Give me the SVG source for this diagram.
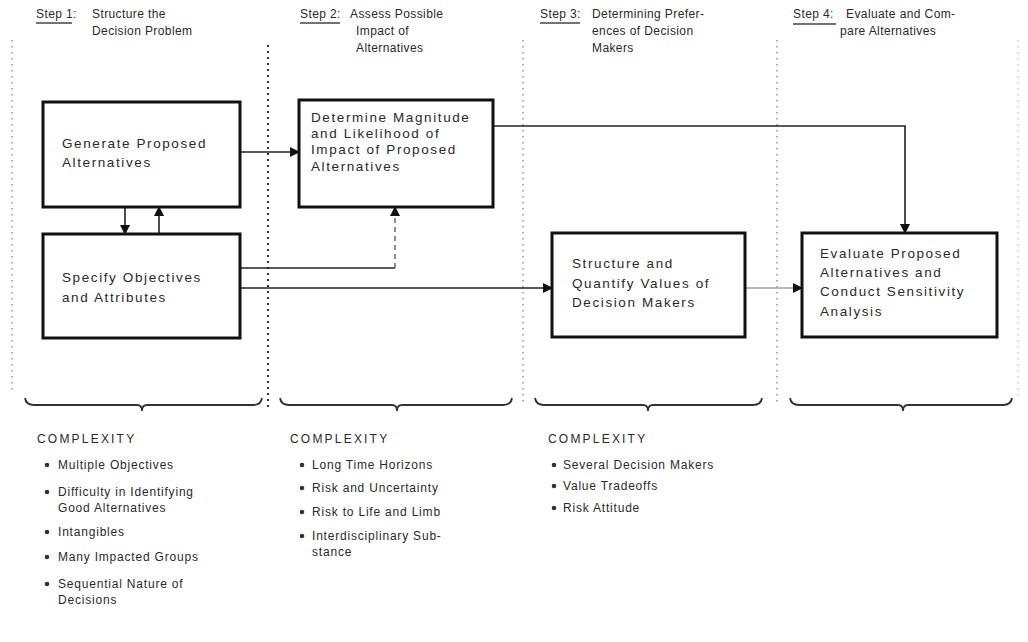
<svg xmlns="http://www.w3.org/2000/svg" width="1028" height="642" viewBox="0 0 1028 642">
  <style>
    text { font-family: "Liberation Sans", Arial, sans-serif; fill: #2a2a2a; }
    .hd { font-size: 12px; letter-spacing: 0.4px; }
    .bx { font-size: 13.5px; letter-spacing: 1.6px; }
    .ls { font-size: 12px; letter-spacing: 0.8px; }
    .cx { font-size: 12px; letter-spacing: 2.2px; }
    .box { fill: #fff; stroke: #111; stroke-width: 3; }
    .ln { fill: none; stroke: #222; stroke-width: 1.6; }
    .lt { fill: none; stroke: #777; stroke-width: 1.2; }
    .dash { fill: none; stroke: #444; stroke-width: 1.2; stroke-dasharray: 5 4; }
    .dot { fill: none; stroke: #999; stroke-width: 1.6; stroke-dasharray: 1.5 4.5; }
    .dotk { fill: none; stroke: #333; stroke-width: 2; stroke-dasharray: 2 4; }
    .ul { stroke: #444; stroke-width: 1.4; }
    .brace { fill: none; stroke: #333; stroke-width: 1.8; }
    .bul { fill: #333; }
  </style>
  <defs>
    <marker id="ah" markerWidth="10" markerHeight="10" refX="9" refY="5" orient="auto" markerUnits="userSpaceOnUse">
      <path d="M0,0 L10,5 L0,10 Z" fill="#111"/>
    </marker>
  </defs>

  <rect width="1028" height="642" fill="#fff"/>

  <!-- column separators -->
  <g id="separators">
    <line class="dot" x1="12" y1="40" x2="12" y2="390"/>
    <line class="dotk" x1="268" y1="45" x2="268" y2="408"/>
    <line class="dot" x1="523" y1="40" x2="523" y2="404"/>
    <line class="dot" x1="777" y1="40" x2="777" y2="402"/>
    <line class="dot" x1="1018" y1="40" x2="1018" y2="400" style="stroke:#ccc"/>
  </g>

  <!-- step headings -->
  <g id="step1-head">
    <text class="hd" x="36" y="18">Step 1:</text>
    <line class="ul" x1="36" y1="23" x2="72" y2="23"/>
    <text class="hd" x="92" y="18">Structure the</text>
    <text class="hd" x="92" y="35">Decision Problem</text>
  </g>
  <g id="step2-head">
    <text class="hd" x="300" y="18">Step 2:</text>
    <line class="ul" x1="300" y1="23" x2="340" y2="23"/>
    <text class="hd" x="350" y="18">Assess Possible</text>
    <text class="hd" x="356" y="35">Impact  of</text>
    <text class="hd" x="356" y="52">Alternatives</text>
  </g>
  <g id="step3-head">
    <text class="hd" x="540" y="18">Step 3:</text>
    <line class="ul" x1="540" y1="23" x2="580" y2="23"/>
    <text class="hd" x="592" y="18">Determining Prefer-</text>
    <text class="hd" x="592" y="35">ences of Decision</text>
    <text class="hd" x="592" y="52">Makers</text>
  </g>
  <g id="step4-head">
    <text class="hd" x="793" y="18">Step 4:</text>
    <line class="ul" x1="793" y1="24" x2="836" y2="24"/>
    <text class="hd" x="846" y="18">Evaluate and Com-</text>
    <text class="hd" x="840" y="35">pare Alternatives</text>
  </g>

  <!-- connectors -->
  <g id="connectors">
    <line class="ln" x1="240" y1="152" x2="299" y2="152" marker-end="url(#ah)"/>
    <polyline class="ln" points="493,126 905,126 905,233" marker-end="url(#ah)"/>
    <line class="ln" x1="125" y1="207" x2="125" y2="234" marker-end="url(#ah)"/>
    <line class="ln" x1="159" y1="234" x2="159" y2="207" marker-end="url(#ah)"/>
    <line class="ln" x1="240" y1="268" x2="395" y2="268"/>
    <line class="dash" x1="395" y1="268" x2="395" y2="214"/>
    <line class="ln" x1="395" y1="216" x2="395" y2="207" marker-end="url(#ah)"/>
    <line class="ln" x1="240" y1="288" x2="552" y2="288" marker-end="url(#ah)"/>
    <line class="lt" x1="745" y1="288" x2="802" y2="288" marker-end="url(#ah)"/>
  </g>

  <!-- process boxes -->
  <g id="generate-alternatives">
    <rect class="box" x="43" y="102" width="197" height="105"/>
    <text class="bx" x="62" y="148">Generate Proposed</text>
    <text class="bx" x="62" y="167">Alternatives</text>
  </g>
  <g id="specify-objectives">
    <rect class="box" x="43" y="234" width="197" height="104"/>
    <text class="bx" x="62" y="282">Specify Objectives</text>
    <text class="bx" x="62" y="302">and Attributes</text>
  </g>
  <g id="determine-impact">
    <rect class="box" x="299" y="100" width="194" height="107"/>
    <text class="bx" x="311" y="122">Determine Magnitude</text>
    <text class="bx" x="311" y="138">and Likelihood of</text>
    <text class="bx" x="311" y="154">Impact of  Proposed</text>
    <text class="bx" x="311" y="171">Alternatives</text>
  </g>
  <g id="quantify-values">
    <rect class="box" x="552" y="233" width="193" height="104"/>
    <text class="bx" x="572" y="268">Structure and</text>
    <text class="bx" x="572" y="288">Quantify Values of</text>
    <text class="bx" x="572" y="307">Decision Makers</text>
  </g>
  <g id="evaluate-alternatives">
    <rect class="box" x="802" y="233" width="195" height="104"/>
    <text class="bx" x="820" y="258">Evaluate Proposed</text>
    <text class="bx" x="820" y="277">Alternatives and</text>
    <text class="bx" x="820" y="296">Conduct Sensitivity</text>
    <text class="bx" x="820" y="316">Analysis</text>
  </g>

  <!-- braces under each step -->
  <g id="braces">
    <path class="brace" d="M25,398 Q26,405 34,405 L137,405 Q142,405 142,411 Q142,405 147,405 L253,405 Q261,405 262,398"/>
    <path class="brace" d="M280,398 Q281,405 289,405 L392,405 Q397,405 397,411 Q397,405 402,405 L503,405 Q511,405 512,398"/>
    <path class="brace" d="M535,398 Q536,405 544,405 L643,405 Q648,405 648,411 Q648,405 653,405 L753,405 Q761,405 762,398"/>
    <path class="brace" d="M790,398 Q791,405 799,405 L898,405 Q903,405 903,411 Q903,405 908,405 L1003,405 Q1011,405 1012,398"/>
  </g>

  <!-- complexity lists -->
  <g id="complexity-1">
    <text class="cx" x="37" y="443">COMPLEXITY</text>
    <circle class="bul" cx="47" cy="465" r="2.3"/>
    <text class="ls" x="58" y="469">Multiple Objectives</text>
    <circle class="bul" cx="47" cy="492" r="2.3"/>
    <text class="ls" x="58" y="496">Difficulty in Identifying</text>
    <text class="ls" x="58" y="512">Good Alternatives</text>
    <circle class="bul" cx="47" cy="532" r="2.3"/>
    <text class="ls" x="58" y="536">Intangibles</text>
    <circle class="bul" cx="47" cy="557" r="2.3"/>
    <text class="ls" x="58" y="561">Many Impacted Groups</text>
    <circle class="bul" cx="47" cy="584" r="2.3"/>
    <text class="ls" x="58" y="588">Sequential Nature of</text>
    <text class="ls" x="58" y="604">Decisions</text>
  </g>
  <g id="complexity-2">
    <text class="cx" x="290" y="443">COMPLEXITY</text>
    <circle class="bul" cx="302" cy="465" r="2.3"/>
    <text class="ls" x="312" y="469">Long Time Horizons</text>
    <circle class="bul" cx="302" cy="488" r="2.3"/>
    <text class="ls" x="312" y="492">Risk and Uncertainty</text>
    <circle class="bul" cx="302" cy="512" r="2.3"/>
    <text class="ls" x="312" y="516">Risk to Life and Limb</text>
    <circle class="bul" cx="302" cy="536" r="2.3"/>
    <text class="ls" x="312" y="540">Interdisciplinary Sub-</text>
    <text class="ls" x="312" y="556">stance</text>
  </g>
  <g id="complexity-3">
    <text class="cx" x="548" y="443">COMPLEXITY</text>
    <circle class="bul" cx="554" cy="465" r="2.3"/>
    <text class="ls" x="563" y="469">Several Decision Makers</text>
    <circle class="bul" cx="554" cy="486" r="2.3"/>
    <text class="ls" x="563" y="490">Value Tradeoffs</text>
    <circle class="bul" cx="554" cy="508" r="2.3"/>
    <text class="ls" x="563" y="512">Risk Attitude</text>
  </g>
</svg>
